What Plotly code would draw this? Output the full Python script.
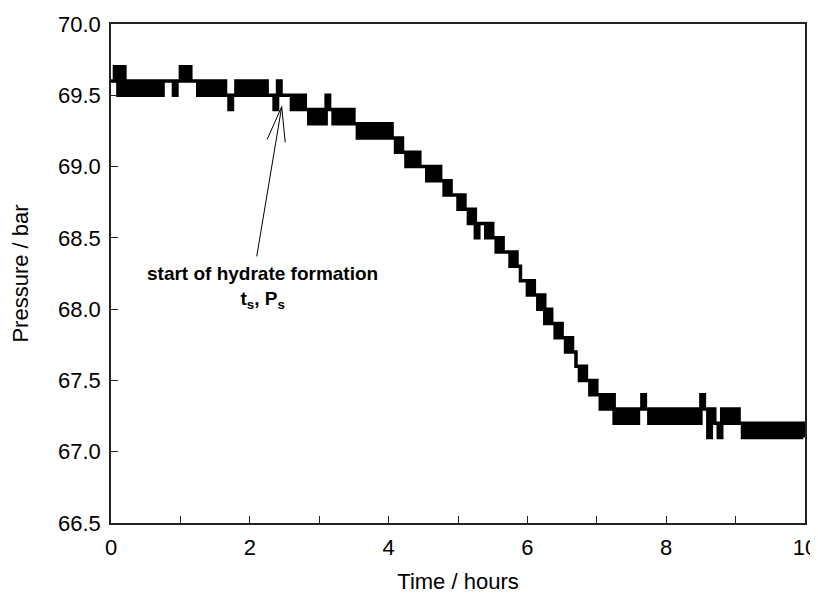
import plotly.graph_objects as go

time_h = [round(0.05 * i, 2) for i in range(201)]
pressure_bar = [
    69.6, 69.7, 69.5, 69.7, 69.5, 69.6, 69.5, 69.6, 69.5, 69.6,
    69.5, 69.6, 69.5, 69.6, 69.5, 69.6, 69.6, 69.6, 69.5, 69.6,
    69.7, 69.6, 69.7, 69.6, 69.6, 69.5, 69.6, 69.5, 69.6, 69.5,
    69.6, 69.5, 69.6, 69.5, 69.4, 69.5, 69.6, 69.5, 69.6, 69.5,
    69.6, 69.5, 69.6, 69.5, 69.6, 69.5, 69.5, 69.4, 69.6, 69.5,
    69.5, 69.5, 69.4, 69.5, 69.4, 69.5, 69.4, 69.3, 69.4, 69.3,
    69.4, 69.3, 69.5, 69.4, 69.3, 69.4, 69.3, 69.4, 69.3, 69.4,
    69.3, 69.2, 69.3, 69.2, 69.3, 69.2, 69.3, 69.2, 69.3, 69.2,
    69.3, 69.2, 69.1, 69.2, 69.1, 69.0, 69.1, 69.0, 69.1, 69.0,
    69.0, 68.9, 69.0, 68.9, 69.0, 68.9, 68.8, 68.9, 68.8, 68.8,
    68.7, 68.8, 68.7, 68.6, 68.7, 68.5, 68.6, 68.6, 68.5, 68.6,
    68.5, 68.4, 68.5, 68.4, 68.4, 68.3, 68.4, 68.3, 68.2, 68.2,
    68.1, 68.2, 68.1, 68.0, 68.1, 67.9, 68.0, 67.9, 67.8, 67.9,
    67.8, 67.7, 67.8, 67.7, 67.6, 67.5, 67.6, 67.5, 67.4, 67.5,
    67.4, 67.3, 67.4, 67.3, 67.4, 67.2, 67.3, 67.2, 67.3, 67.2,
    67.3, 67.2, 67.3, 67.4, 67.3, 67.2, 67.3, 67.2, 67.3, 67.2,
    67.3, 67.2, 67.3, 67.2, 67.3, 67.2, 67.3, 67.2, 67.3, 67.2,
    67.4, 67.3, 67.1, 67.3, 67.2, 67.1, 67.3, 67.2, 67.3, 67.2,
    67.3, 67.2, 67.1, 67.2, 67.1, 67.2, 67.1, 67.2, 67.1, 67.2,
    67.1, 67.2, 67.1, 67.2, 67.1, 67.2, 67.1, 67.2, 67.1, 67.2,
    67.1,
]

x_title = "Time / hours"
y_title = "Pressure / bar"
note_text = "start of hydrate formation<br>t<sub>s</sub>, P<sub>s</sub>"

# annotation geometry (data units)
arrow_tip = (2.46, 69.42)
arrow_tail = (2.10, 68.37)
head_left = (2.25, 69.19)
head_right = (2.51, 69.17)
note_pos = (2.19, 68.15)

FONT = "Liberation Sans, Arial, sans-serif"

fig = go.Figure()
fig.add_trace(go.Scatter(
    x=time_h, y=pressure_bar, mode="lines",
    line=dict(color="black", width=3.5, shape="hv"),
    showlegend=False, hoverinfo="skip",
))

shapes = []
for end in (arrow_tail, head_left, head_right):
    shapes.append(dict(type="line", xref="x", yref="y",
                       x0=arrow_tip[0], y0=arrow_tip[1], x1=end[0], y1=end[1],
                       line=dict(color="black", width=1)))

fig.update_layout(
    width=810, height=589,
    paper_bgcolor="white", plot_bgcolor="white",
    margin=dict(l=103, r=13, t=16, b=74),
    font=dict(family=FONT, color="black", size=22),
    shapes=shapes,
    annotations=[dict(
        x=note_pos[0], y=note_pos[1], xref="x", yref="y",
        text=note_text, showarrow=False,
        font=dict(family=FONT, size=19, color="black", weight="bold"),
        align="center",
    )],
)
fig.update_xaxes(
    range=[0, 10], dtick=2, tick0=0, automargin=False,
    ticks="inside", ticklen=7, tickwidth=1, tickcolor="#222",
    minor=dict(dtick=1, ticks="inside", ticklen=7, tickwidth=1, tickcolor="#222"),
    showline=True, linecolor="#222", linewidth=1.5, mirror=True,
    showgrid=False, zeroline=False,
    tickfont=dict(size=22), ticklabelstandoff=4, ticklabeloverflow="allow",
    title=dict(text=x_title, font=dict(size=22), standoff=14),
)
fig.update_yaxes(
    range=[66.5, 70.0], dtick=0.5, tick0=66.5, tickformat=".1f", automargin=False,
    ticks="inside", ticklen=7, tickwidth=1, tickcolor="#222",
    showline=True, linecolor="#222", linewidth=1.5, mirror=True,
    showgrid=False, zeroline=False,
    tickfont=dict(size=22), ticklabelstandoff=4,
    title=dict(text=y_title, font=dict(size=22), standoff=25),
)

fig.write_html("out.html")
